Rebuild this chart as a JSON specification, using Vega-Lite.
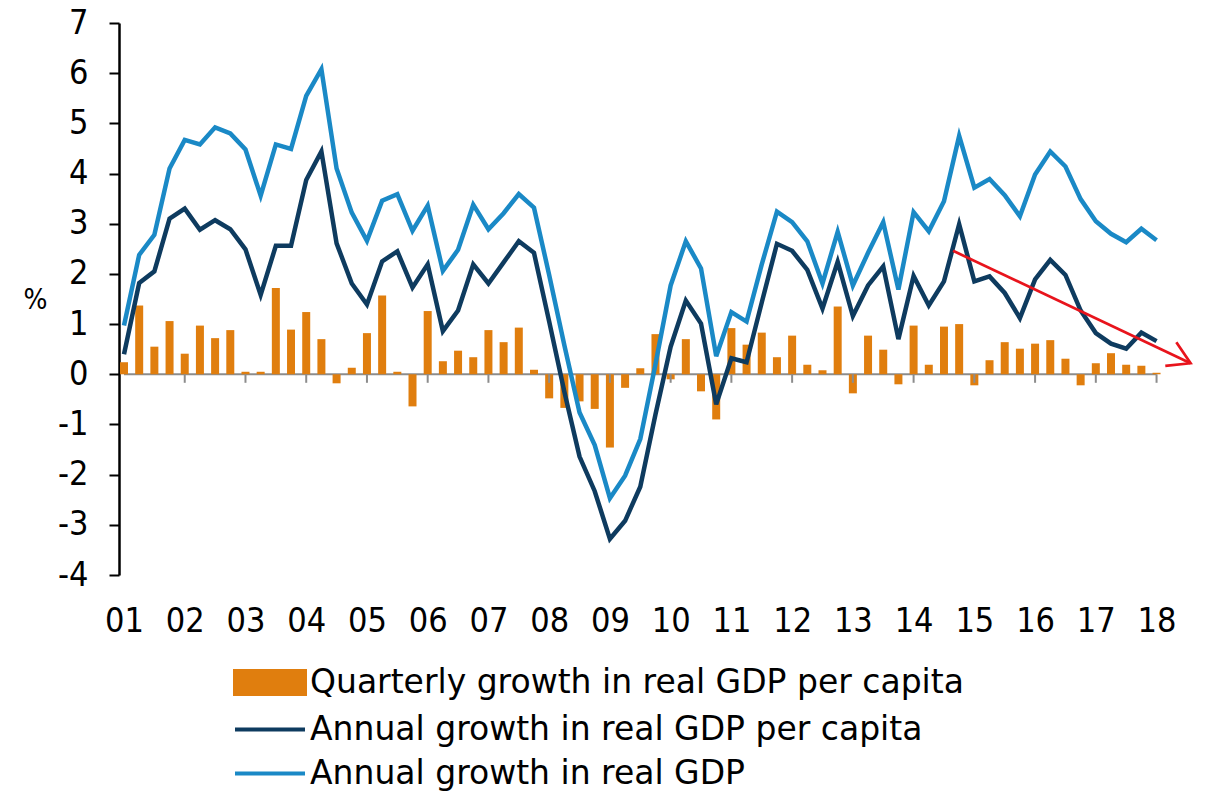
{
 "$schema": "https://vega.github.io/schema/vega-lite/v6.json",
 "width": 1079,
 "height": 552,
 "autosize": {"type": "none"},
 "padding": {"left": 119, "top": 23, "right": 7, "bottom": 220},
 "background": "white",
 "config": {"view": {"stroke": null}, "font": "DejaVu Sans Condensed", "axis": {"grid": false}},
 "datasets": {
  "gdp": [
   {"t":2001.00,"q":0.24,"a":0.40,"g":0.97},
   {"t":2001.25,"q":1.37,"a":1.82,"g":2.38},
   {"t":2001.50,"q":0.55,"a":2.05,"g":2.78},
   {"t":2001.75,"q":1.06,"a":3.10,"g":4.10},
   {"t":2002.00,"q":0.41,"a":3.30,"g":4.67},
   {"t":2002.25,"q":0.97,"a":2.88,"g":4.58},
   {"t":2002.50,"q":0.72,"a":3.07,"g":4.92},
   {"t":2002.75,"q":0.88,"a":2.89,"g":4.80},
   {"t":2003.00,"q":0.05,"a":2.49,"g":4.48},
   {"t":2003.25,"q":0.05,"a":1.58,"g":3.56},
   {"t":2003.50,"q":1.72,"a":2.56,"g":4.58},
   {"t":2003.75,"q":0.89,"a":2.56,"g":4.49},
   {"t":2004.00,"q":1.24,"a":3.87,"g":5.55},
   {"t":2004.25,"q":0.70,"a":4.44,"g":6.08},
   {"t":2004.50,"q":-0.18,"a":2.61,"g":4.10},
   {"t":2004.75,"q":0.13,"a":1.81,"g":3.22},
   {"t":2005.00,"q":0.82,"a":1.39,"g":2.66},
   {"t":2005.25,"q":1.57,"a":2.25,"g":3.46},
   {"t":2005.50,"q":0.05,"a":2.45,"g":3.59},
   {"t":2005.75,"q":-0.64,"a":1.73,"g":2.86},
   {"t":2006.00,"q":1.26,"a":2.19,"g":3.36},
   {"t":2006.25,"q":0.26,"a":0.86,"g":2.06},
   {"t":2006.50,"q":0.47,"a":1.27,"g":2.48},
   {"t":2006.75,"q":0.34,"a":2.19,"g":3.38},
   {"t":2007.00,"q":0.88,"a":1.81,"g":2.89},
   {"t":2007.25,"q":0.64,"a":2.23,"g":3.21},
   {"t":2007.50,"q":0.93,"a":2.65,"g":3.59},
   {"t":2007.75,"q":0.09,"a":2.42,"g":3.32},
   {"t":2008.00,"q":-0.48,"a":1.05,"g":1.98},
   {"t":2008.25,"q":-0.67,"a":-0.35,"g":0.58},
   {"t":2008.50,"q":-0.54,"a":-1.64,"g":-0.76},
   {"t":2008.75,"q":-0.69,"a":-2.33,"g":-1.41},
   {"t":2009.00,"q":-1.46,"a":-3.28,"g":-2.47},
   {"t":2009.25,"q":-0.27,"a":-2.92,"g":-2.02},
   {"t":2009.50,"q":0.12,"a":-2.24,"g":-1.29},
   {"t":2009.75,"q":0.80,"a":-0.80,"g":0.20},
   {"t":2010.00,"q":-0.10,"a":0.55,"g":1.77},
   {"t":2010.25,"q":0.70,"a":1.47,"g":2.65},
   {"t":2010.50,"q":-0.34,"a":1.01,"g":2.11},
   {"t":2010.75,"q":-0.90,"a":-0.60,"g":0.36},
   {"t":2011.00,"q":0.92,"a":0.32,"g":1.24},
   {"t":2011.25,"q":0.59,"a":0.24,"g":1.05},
   {"t":2011.50,"q":0.83,"a":1.43,"g":2.19},
   {"t":2011.75,"q":0.34,"a":2.60,"g":3.24},
   {"t":2012.00,"q":0.77,"a":2.46,"g":3.03},
   {"t":2012.25,"q":0.19,"a":2.08,"g":2.65},
   {"t":2012.50,"q":0.08,"a":1.31,"g":1.81},
   {"t":2012.75,"q":1.35,"a":2.24,"g":2.84},
   {"t":2013.00,"q":-0.38,"a":1.16,"g":1.77},
   {"t":2013.25,"q":0.77,"a":1.77,"g":2.42},
   {"t":2013.50,"q":0.49,"a":2.15,"g":3.03},
   {"t":2013.75,"q":-0.20,"a":0.70,"g":1.69},
   {"t":2014.00,"q":0.97,"a":1.96,"g":3.23},
   {"t":2014.25,"q":0.19,"a":1.37,"g":2.85},
   {"t":2014.50,"q":0.95,"a":1.85,"g":3.45},
   {"t":2014.75,"q":1.00,"a":2.99,"g":4.75},
   {"t":2015.00,"q":-0.22,"a":1.85,"g":3.72},
   {"t":2015.25,"q":0.28,"a":1.95,"g":3.89},
   {"t":2015.50,"q":0.64,"a":1.62,"g":3.57},
   {"t":2015.75,"q":0.51,"a":1.12,"g":3.15},
   {"t":2016.00,"q":0.61,"a":1.89,"g":3.98},
   {"t":2016.25,"q":0.68,"a":2.28,"g":4.44},
   {"t":2016.50,"q":0.31,"a":1.98,"g":4.14},
   {"t":2016.75,"q":-0.22,"a":1.27,"g":3.49},
   {"t":2017.00,"q":0.22,"a":0.82,"g":3.05},
   {"t":2017.25,"q":0.42,"a":0.61,"g":2.80},
   {"t":2017.50,"q":0.19,"a":0.51,"g":2.63},
   {"t":2017.75,"q":0.17,"a":0.83,"g":2.90},
   {"t":2018.00,"q":0.03,"a":0.66,"g":2.67}
  ],
  "zero": [{"t":2001,"t2":2018,"v":0}],
  "ticks": [
   {"t":2002,"v":0,"v2":-0.17},{"t":2003,"v":0,"v2":-0.17},{"t":2004,"v":0,"v2":-0.17},
   {"t":2005,"v":0,"v2":-0.17},{"t":2006,"v":0,"v2":-0.17},{"t":2007,"v":0,"v2":-0.17},
   {"t":2008,"v":0,"v2":-0.17},{"t":2009,"v":0,"v2":-0.17},{"t":2010,"v":0,"v2":-0.17},
   {"t":2011,"v":0,"v2":-0.17},{"t":2012,"v":0,"v2":-0.17},{"t":2013,"v":0,"v2":-0.17},
   {"t":2014,"v":0,"v2":-0.17},{"t":2015,"v":0,"v2":-0.17},{"t":2016,"v":0,"v2":-0.17},
   {"t":2017,"v":0,"v2":-0.17},{"t":2018,"v":0,"v2":-0.17}
  ],
  "arrow": [{"t":2014.65,"v":2.46,"t2":2018.56,"v2":0.22}]
 },
 "layer": [
  {
   "data": {"name": "zero"},
   "mark": {"type": "rule", "color": "#8C8C8C", "strokeWidth": 2},
   "encoding": {
    "x": {"field": "t", "type": "quantitative", "scale": {"domain": [2001, 2018.6], "nice": false, "zero": false},
     "axis": {"title": null, "values": [2001,2002,2003,2004,2005,2006,2007,2008,2009,2010,2011,2012,2013,2014,2015,2016,2017,2018],
      "labelExpr": "(datum.value < 2010 ? '0' : '') + (datum.value - 2000)",
      "domain": false, "ticks": false, "labelPadding": 29, "labelFontSize": 34, "labelColor": "#000000",
      "labelFlush": false, "labelOverlap": false, "labelFont": "DejaVu Sans Condensed"}},
    "x2": {"field": "t2"},
    "y": {"field": "v", "type": "quantitative", "scale": {"domain": [-4, 7], "nice": false},
     "axis": {"title": "%", "values": [-4,-3,-2,-1,0,1,2,3,4,5,6,7], "labelExpr": "'' + datum.value",
      "domainColor": "#000000", "domainWidth": 2.5, "tickColor": "#000000", "tickWidth": 2, "tickSize": 10,
      "labelPadding": 21, "labelFontSize": 34, "labelColor": "#000000", "labelFont": "DejaVu Sans Condensed",
      "titleAngle": 0, "titleX": -84, "titleY": 277, "titleAlign": "center", "titleBaseline": "middle",
      "titleFontSize": 28, "titleFontWeight": "normal", "titleColor": "#000000", "titleFont": "DejaVu Sans Condensed",
      "labelFlush": false}}
   }
  },
  {
   "data": {"name": "gdp"},
   "mark": {"type": "bar", "size": 8, "clip": false},
   "encoding": {
    "x": {"field": "t", "type": "quantitative"},
    "y": {"field": "q", "type": "quantitative"},
    "color": {"datum": "Quarterly growth in real GDP per capita", "type": "nominal", "title": null,
     "scale": {"domain": ["Quarterly growth in real GDP per capita", "Annual growth in real GDP per capita", "Annual growth in real GDP"],
      "range": ["#E07E0E", "#0E3B5F", "#1A89C6"]},
     "legend": {"title": null, "orient": "none", "legendX": 114, "legendY": 640, "direction": "vertical",
      "labelFontSize": 33, "labelFont": "DejaVu Sans", "labelColor": "#000000", "labelOffset": 38,
      "rowPadding": 7, "padding": 0, "symbolSize": 1225, "labelLimit": 0,
      "encode": {"symbols": {"update": {
       "shape": {"signal": "datum.value === 'Quarterly growth in real GDP per capita' ? 'M-1,-0.66H3V0.66H-1Z' : 'M-1,0H3'"},
       "fill": {"signal": "datum.value === 'Quarterly growth in real GDP per capita' ? '#E07E0E' : 'transparent'"},
       "stroke": {"signal": "datum.value === 'Quarterly growth in real GDP per capita' ? 'transparent' : scale('color', datum.value)"},
       "strokeWidth": {"value": 4},
       "opacity": {"value": 1},
       "fillOpacity": {"value": 1},
       "strokeOpacity": {"value": 1},
       "size": {"value": 1225}
      }}}}
    }
   }
  },
  {
   "data": {"name": "ticks"},
   "mark": {"type": "rule", "color": "#8C8C8C", "strokeWidth": 2},
   "encoding": {
    "x": {"field": "t", "type": "quantitative"},
    "y": {"field": "v", "type": "quantitative"},
    "y2": {"field": "v2"}
   }
  },
  {
   "data": {"name": "gdp"},
   "transform": [{"fold": ["a", "g"], "as": ["k", "val"]},
    {"lookup": "k", "from": {"data": {"values": [{"k": "a", "series": "Annual growth in real GDP per capita"}, {"k": "g", "series": "Annual growth in real GDP"}]}, "key": "k", "fields": ["series"]}}],
   "mark": {"type": "line", "strokeWidth": 4.5},
   "encoding": {
    "x": {"field": "t", "type": "quantitative"},
    "y": {"field": "val", "type": "quantitative"},
    "color": {"field": "series", "type": "nominal", "title": null},
    "detail": {"field": "series"}
   }
  },
  {
   "data": {"name": "arrow"},
   "mark": {"type": "rule", "color": "#E8141C", "strokeWidth": 2.7, "clip": false},
   "encoding": {
    "x": {"field": "t", "type": "quantitative"},
    "y": {"field": "v", "type": "quantitative"},
    "x2": {"field": "t2"},
    "y2": {"field": "v2"}
   }
  },
  {
   "data": {"name": "arrow"},
   "mark": {"type": "point", "shape": "M-1,-0.6L0,0L-1,0.6", "filled": false, "size": 1900, "angle": 25, "color": "#E8141C", "strokeWidth": 2.7, "opacity": 1, "clip": false},
   "encoding": {
    "x": {"field": "t2", "type": "quantitative"},
    "y": {"field": "v2", "type": "quantitative"}
   }
  }
 ]
}
